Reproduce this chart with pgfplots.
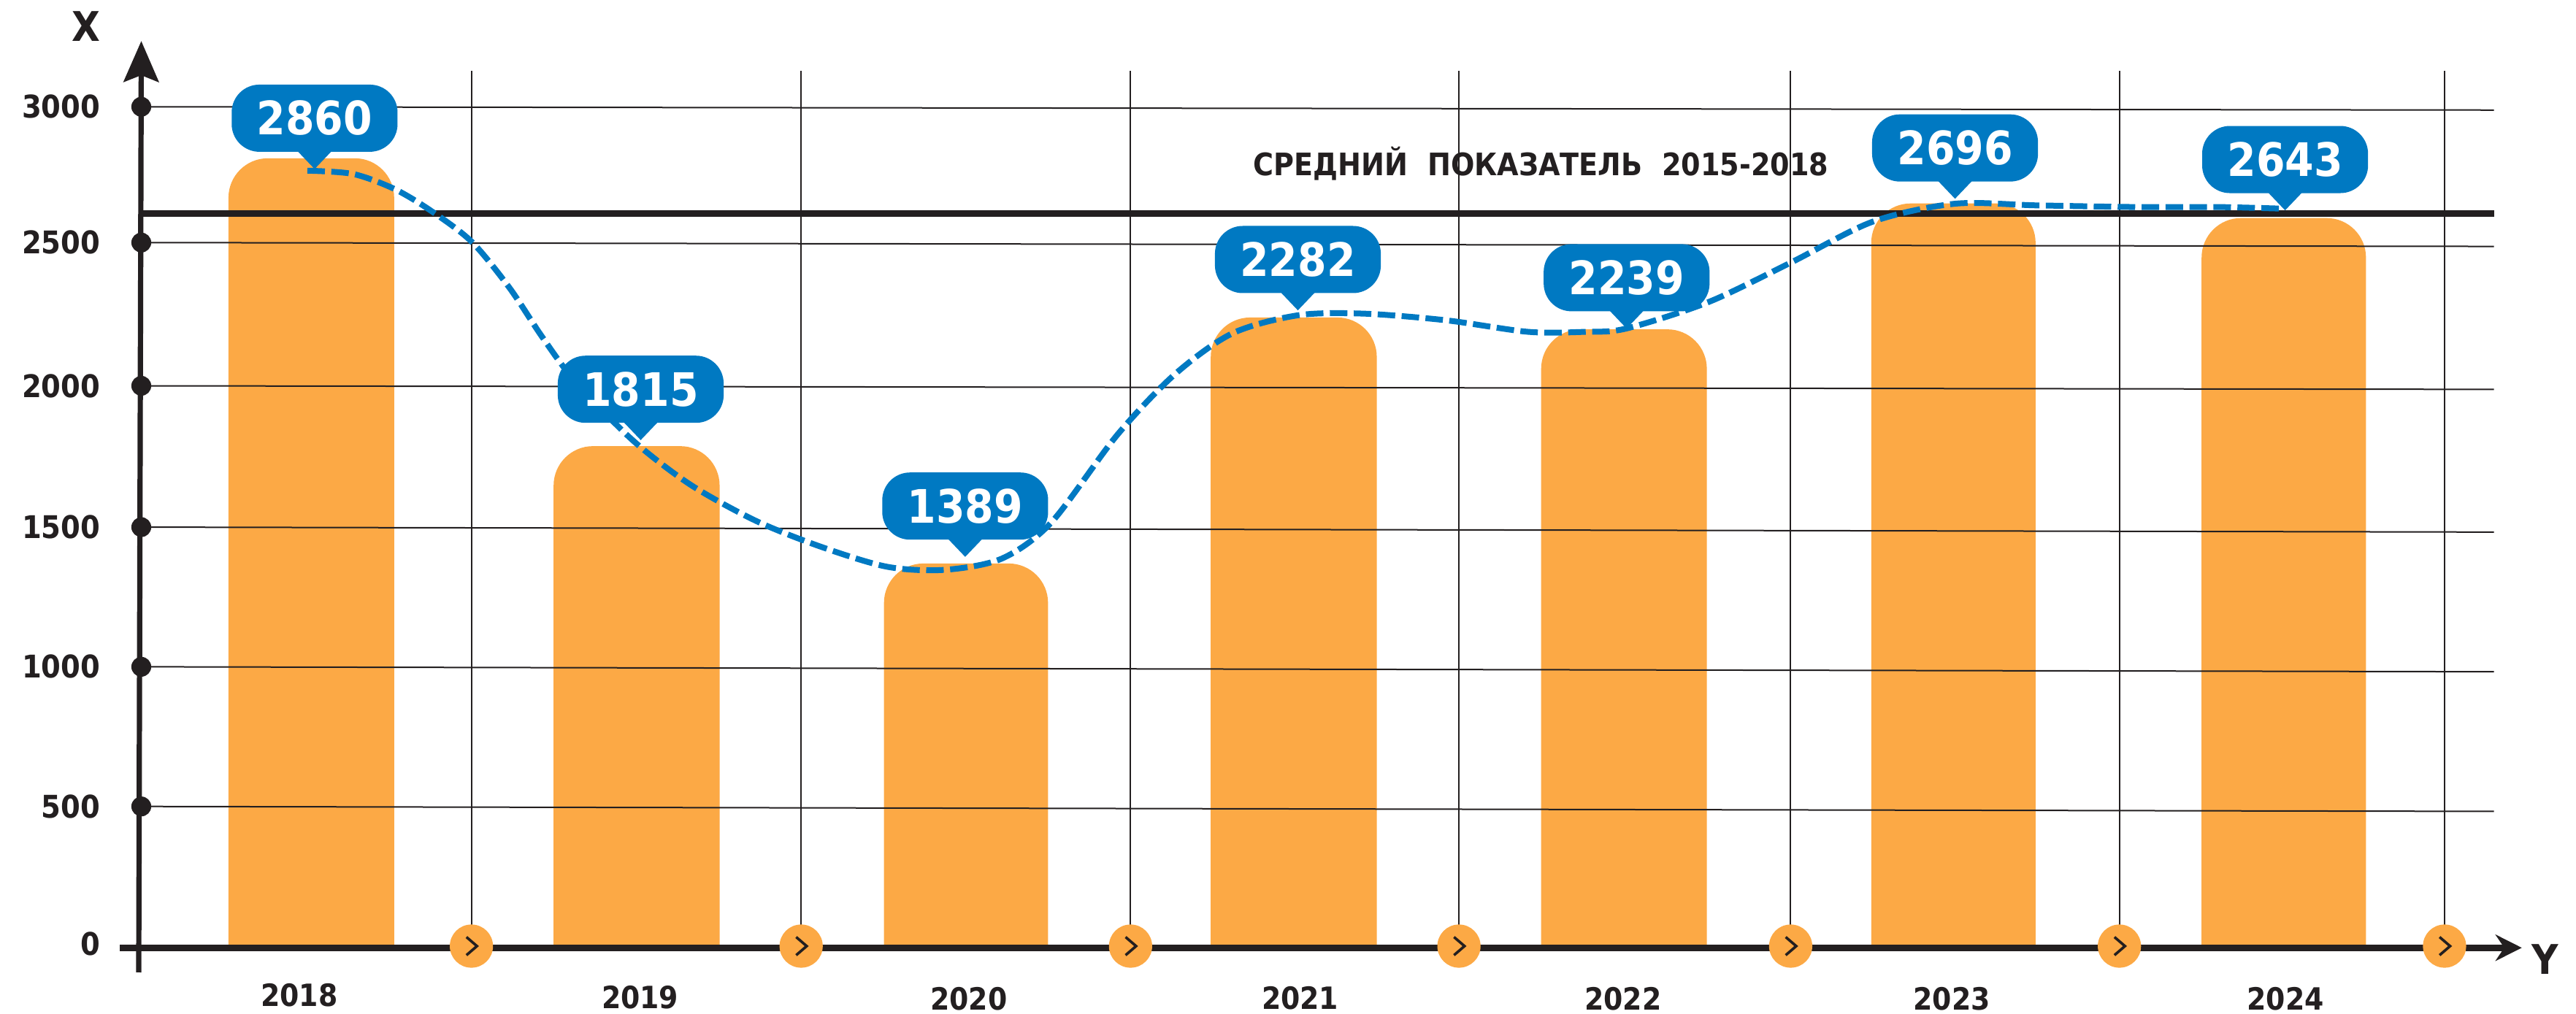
\documentclass[border=0pt]{standalone}
\usepackage{fontspec}
\setmainfont{DejaVu Sans Condensed}
\usepackage{pgfplots}
\pgfplotsset{compat=1.18}
\usepackage{pgfplotstable}
\usetikzlibrary{arrows.meta}
\definecolor{ink}{HTML}{231F20}
\definecolor{barorange}{HTML}{FCA945}
\definecolor{calloutblue}{HTML}{0079C2}
\pgfdeclareplotmark{tip}{%
  \pgfpathmoveto{\pgfqpoint{0pt}{0pt}}%
  \pgfpathlineto{\pgfqpoint{-6.2pt}{6.5pt}}%
  \pgfpathlineto{\pgfqpoint{6.2pt}{6.5pt}}%
  \pgfpathclose\pgfusepathqfill}
\pgfdeclareplotmark{chev}{%
  \pgfsetfillcolor{barorange}%
  \pgfpathcircle{\pgfqpoint{0pt}{0pt}}{7.4pt}\pgfusepathqfill
  \pgfsetstrokecolor{ink}\pgfsetlinewidth{0.9pt}%
  \pgfpathmoveto{\pgfqpoint{-1.7pt}{3.1pt}}%
  \pgfpathlineto{\pgfqpoint{1.9pt}{0pt}}%
  \pgfpathlineto{\pgfqpoint{-1.7pt}{-3.1pt}}%
  \pgfusepathqstroke}
\pgfdeclareplotmark{tickdot}{%
  \pgfpathcircle{\pgfqpoint{0pt}{0pt}}{3.4pt}\pgfusepathqfill}
\pgfplotstableread{
x y label
0.010 2821 2860
1.002 1837 1815
1.989 1413 1389
3.001 2308 2282
4.001 2242 2239
5.000 2713 2696
6.004 2671 2643
}\calloutdata
\pgfplotstableread{
x y
-0.012 2815
0.127 2803
0.252 2749
0.362 2671
0.487 2558
0.602 2391
0.702 2212
0.802 2051
0.977 1837
1.152 1676
1.352 1544
1.552 1449
1.752 1377
1.927 1366
2.101 1407
2.251 1538
2.451 1855
2.626 2075
2.801 2224
3.001 2290
3.201 2296
3.451 2272
3.701 2230
3.876 2230
4.000 2242
4.250 2338
4.500 2481
4.750 2630
5.000 2695
5.250 2689
5.550 2683
5.800 2683
6.000 2677
}\curvedata
\begin{document}
\begin{tikzpicture}
\useasboundingbox (-48.375pt,-14.25pt) rectangle (833.625pt,333pt);
\begin{axis}[
  at={(0pt,0pt)},anchor=south west,
  scale only axis,width=815.06pt,height=318.94pt,
  xmin=-0.5172,xmax=6.724,ymin=-95.4,ymax=3285.6,
  clip=false,
  axis lines=left,axis line style={draw=none},
  major tick length=0pt,
  xtick={-0.037,1.0,2.0,3.008,3.99,4.99,6.005},
  xticklabels={\raisebox{2.3pt}{2018},\raisebox{1pt}{2019},2020,\raisebox{0.6pt}{2021},2022,2023,2024},
  xticklabel style={anchor=center,yshift=-9pt,font=\bfseries\fontsize{10.5}{12}\selectfont,text=ink},
  ytick={0,507,1014,1521,2034,2554,3047},
  yticklabels={\raisebox{1.6pt}{\hspace*{-0.6pt}0},500,1000,1500,2000,\raisebox{-0.5pt}{2500},\raisebox{0.5pt}{3000}},
  yticklabel style={anchor=east,xshift=-10.5pt,font=\bfseries\fontsize{10.7}{12}\selectfont,text=ink},
  xlabel={Y},ylabel={X},
  every axis x label/.style={at={(axis cs:6.795,-47)},anchor=center,font=\bfseries\fontsize{14}{15}\selectfont,text=ink},
  every axis y label/.style={at={(axis cs:-0.685,3340)},anchor=center,rotate=0,font=\bfseries\fontsize{14}{15}\selectfont,text=ink},
]
% bars with rounded tops
\pgfplotsset{barst/.style={fill=barorange,draw=none,rounded corners=13.5pt,forget plot}}
\addplot[barst] coordinates {(-0.252,0)(-0.252,2860)(0.252,2860)(0.252,0)};
\addplot[barst] coordinates {(0.737,0)(0.737,1815)(1.242,1815)(1.242,0)};
\addplot[barst] coordinates {(1.742,0)(1.742,1389)(2.241,1389)(2.241,0)};
\addplot[barst] coordinates {(2.736,0)(2.736,2282)(3.241,2282)(3.241,0)};
\addplot[barst] coordinates {(3.741,0)(3.741,2239)(4.245,2239)(4.245,0)};
\addplot[barst] coordinates {(4.745,0)(4.745,2696)(5.245,2696)(5.245,0)};
\addplot[barst] coordinates {(5.750,0)(5.750,2643)(6.250,2643)(6.250,0)};
% horizontal grid lines (very slightly tilted, as in the reference)
\pgfplotsset{gridst/.style={ink,line width=0.5pt,forget plot}}
\addplot[gridst] coordinates {(-0.517,507)(6.639,489)};
\addplot[gridst] coordinates {(-0.517,1014)(6.639,996)};
\addplot[gridst] coordinates {(-0.517,1521)(6.639,1503)};
\addplot[gridst] coordinates {(-0.517,2034)(6.639,2021)};
\addplot[gridst] coordinates {(-0.517,2554)(6.639,2540)};
\addplot[gridst] coordinates {(-0.517,3047)(6.639,3035)};
% vertical grid lines
\addplot[gridst] coordinates {(0.487,0)(0.487,3178)};
\addplot[gridst] coordinates {(1.490,0)(1.490,3178)};
\addplot[gridst] coordinates {(2.492,0)(2.492,3178)};
\addplot[gridst] coordinates {(3.491,0)(3.491,3178)};
\addplot[gridst] coordinates {(4.500,0)(4.500,3178)};
\addplot[gridst] coordinates {(5.500,0)(5.500,3178)};
\addplot[gridst] coordinates {(6.489,0)(6.489,3178)};
% mean line
\addplot[ink,line width=2.2pt,forget plot] coordinates {(-0.517,2660)(6.639,2660)};
\node[font=\bfseries\fontsize{10.6}{11}\selectfont,text=ink] at (axis cs:3.741,2840) {СРЕДНИЙ\ \ ПОКАЗАТЕЛЬ\ \ 2015-2018};
% axes
\addplot[ink,line width=2.2pt,-{Stealth[length=9pt,width=9pt,inset=3pt]},forget plot] coordinates {(-0.582,-6)(6.724,-6)};
\addplot[ink,line width=1.8pt,-{Stealth[length=14pt,width=12pt,inset=2.3pt]},forget plot] coordinates {(-0.525,-95.4)(-0.5172,3285.6)};
% tick dots on the axis
\addplot[only marks,mark=tickdot,ink,forget plot] coordinates {(-0.5172,507)(-0.5172,1014)(-0.5172,1521)(-0.5172,2034)(-0.5172,2554)(-0.5172,3047)};
% chevrons
\addplot[only marks,mark=chev,forget plot] coordinates {(0.487,0)(1.490,0)(2.492,0)(3.491,0)(4.500,0)(5.500,0)(6.489,0)};
% dashed trend
\addplot[calloutblue,line width=2pt,smooth,tension=0.5,dash pattern=on 6pt off 2.2pt,forget plot] table[x=x,y=y] {\curvedata};
% callouts
\addplot[only marks,mark=tip,color=calloutblue,
  point meta=explicit symbolic,
  nodes near coords,
  nodes near coords align={anchor=south},
  every node near coord/.style={anchor=south,yshift=5.7pt,fill=calloutblue,text=white,rounded corners=9.5pt,
    inner sep=0pt,minimum width=56.8pt,minimum height=23pt,font=\bfseries\fontsize{15.8}{17}\selectfont},
  forget plot]
  table[x=x,y=y,meta=label] {\calloutdata};
\end{axis}
\end{tikzpicture}
\end{document}
